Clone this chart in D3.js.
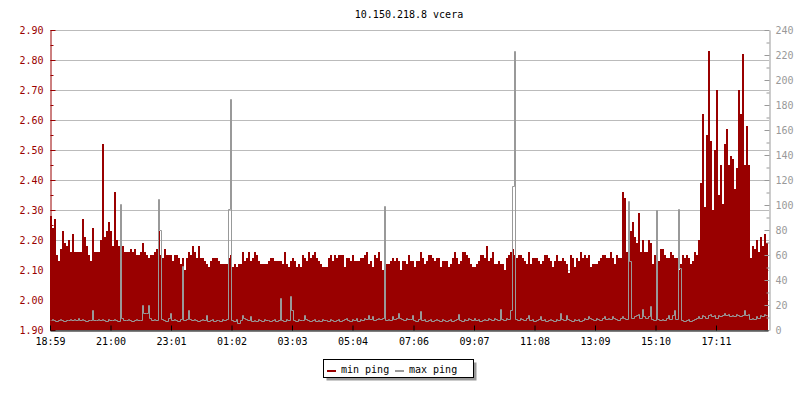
<!DOCTYPE html>
<html><head><meta charset="utf-8">
<script src="https://cdn.jsdelivr.net/npm/d3@7"></script>
<style>
body{margin:0;background:#fff}
svg{display:block}
text{font-family:"DejaVu Sans Mono","Liberation Mono",monospace;font-size:10px}
</style>
</head><body><svg id="c" width="800" height="400"></svg>
<script>
const title = "10.150.218.8 vcera";
const startTime = "18:59";
const stepMinutes = 4;
const seriesNames = ["min ping", "max ping"];

// min ping (ms, left axis), one value per 4 minutes
const minPing = [
2.28,2.24,2.27,2.15,2.13,2.17,2.23,2.19,2.18,2.20,
2.16,2.22,2.16,2.16,2.16,2.16,2.27,2.21,2.18,2.15,
2.13,2.24,2.16,2.16,2.16,2.20,2.52,2.21,2.23,2.26,
2.23,2.18,2.36,2.20,2.18,2.19,2.18,2.16,2.16,2.16,
2.17,2.16,2.17,2.15,2.15,2.16,2.19,2.16,2.15,2.14,
2.15,2.15,2.16,2.17,2.23,2.15,2.14,2.17,2.15,2.15,
2.15,2.13,2.15,2.15,2.14,2.12,2.14,2.10,2.14,2.16,
2.15,2.18,2.16,2.14,2.18,2.14,2.14,2.13,2.12,2.11,
2.13,2.14,2.14,2.14,2.13,2.12,2.12,2.12,2.12,2.14,
2.15,2.11,2.12,2.11,2.12,2.12,2.16,2.13,2.14,2.16,
2.13,2.14,2.16,2.15,2.13,2.12,2.12,2.12,2.12,2.13,
2.14,2.14,2.13,2.13,2.13,2.13,2.12,2.16,2.12,2.11,
2.13,2.14,2.13,2.11,2.12,2.11,2.15,2.14,2.13,2.16,
2.14,2.15,2.16,2.14,2.13,2.12,2.11,2.11,2.11,2.14,
2.15,2.13,2.15,2.14,2.15,2.15,2.15,2.11,2.14,2.14,
2.13,2.15,2.13,2.13,2.13,2.14,2.14,2.15,2.16,2.12,
2.13,2.11,2.15,2.14,2.16,2.13,2.10,2.13,2.12,2.12,
2.13,2.14,2.13,2.14,2.13,2.10,2.13,2.13,2.12,2.15,
2.13,2.13,2.11,2.13,2.13,2.16,2.14,2.12,2.13,2.15,
2.15,2.14,2.13,2.14,2.14,2.11,2.13,2.13,2.13,2.11,
2.12,2.14,2.16,2.14,2.12,2.13,2.16,2.16,2.15,2.14,
2.12,2.11,2.11,2.12,2.13,2.15,2.15,2.14,2.18,2.13,
2.14,2.16,2.12,2.12,2.13,2.12,2.12,2.10,2.14,2.15,
2.16,2.17,2.15,2.14,2.15,2.15,2.14,2.13,2.12,2.16,
2.12,2.14,2.14,2.14,2.13,2.12,2.13,2.15,2.15,2.14,
2.13,2.11,2.13,2.15,2.13,2.13,2.14,2.13,2.12,2.09,
2.15,2.14,2.11,2.14,2.13,2.16,2.14,2.15,2.14,2.15,
2.11,2.12,2.12,2.12,2.13,2.14,2.15,2.15,2.14,2.14,
2.16,2.14,2.12,2.15,2.14,2.14,2.36,2.34,2.16,2.13,
2.23,2.26,2.21,2.19,2.29,2.16,2.20,2.16,2.16,2.20,
2.19,2.12,2.15,2.14,2.13,2.17,2.17,2.15,2.14,2.14,
2.16,2.15,2.14,2.14,2.10,2.12,2.15,2.14,2.15,2.14,
2.12,2.13,2.16,2.15,2.20,2.39,2.62,2.31,2.55,2.83,
2.53,2.30,2.50,2.70,2.35,2.45,2.32,2.52,2.57,2.45,
2.48,2.47,2.37,2.44,2.70,2.62,2.82,2.45,2.58,2.45,
2.14,2.18,2.17,2.20,2.16,2.21,2.18,2.22,2.19
];

// max ping (ms, right axis)
const maxPing = [
8,9,8,7,8,9,8,7,8,8,
9,8,9,8,10,8,9,8,7,8,
8,16,8,8,9,8,9,8,7,9,
8,8,9,8,7,101,10,8,8,9,
8,7,8,9,8,8,20,14,14,20,
10,8,9,8,105,80,9,8,7,10,
14,8,9,8,7,9,51,8,9,16,
9,8,9,8,7,8,9,8,12,7,
8,9,7,8,8,7,9,8,9,97,
185,8,7,9,6,8,12,10,9,8,
11,7,8,7,9,8,7,9,8,8,
7,8,9,7,8,26,8,7,9,8,
27,16,8,7,9,8,8,12,9,8,
7,8,9,7,8,7,9,8,8,7,
9,8,7,8,9,7,8,9,10,8,
7,9,8,10,7,9,8,10,9,12,
9,11,8,9,10,9,10,99,8,9,
8,11,9,10,14,10,9,8,10,9,
9,12,8,7,9,15,8,9,7,8,
9,7,8,9,8,7,9,8,7,8,
9,7,8,9,13,8,7,9,8,10,
9,8,10,8,9,7,8,9,8,10,
9,8,10,9,8,17,9,8,10,9,
16,115,223,9,8,10,9,8,10,12,
8,9,7,8,9,11,8,9,7,8,
9,8,7,9,8,14,9,8,12,9,
8,7,9,8,9,7,8,10,9,11,
10,9,8,10,9,8,10,11,9,10,
9,11,10,9,8,10,11,10,9,103,
55,10,11,12,13,10,17,11,10,11,
19,9,8,96,9,8,9,8,10,12,
9,12,16,9,97,50,8,7,8,9,
7,8,9,10,11,10,12,11,10,12,
13,11,12,10,12,11,12,14,12,13,
11,12,11,13,12,11,12,16,12,13,
9,10,9,11,10,12,11,13,12
];

const timeTickLabels = ["18:59","21:00","23:01","01:02","03:03","05:04","07:06","09:07","11:08","13:09","15:10","17:11"];
const leftTicks = [1.90,2.00,2.10,2.20,2.30,2.40,2.50,2.60,2.70,2.80,2.90];
const leftMinorTicks = [1.95,2.05,2.15,2.25,2.35,2.45,2.55,2.65,2.75,2.85];
const rightTicks = [0,20,40,60,80,100,120,140,160,180,200,220,240];
const rightMinorTicks = [10,30,50,70,90,110,130,150,170,190,210,230];

// ---------- drawing ----------
const RED = "#990000", GRAY = "#999999";
const L = 50, R = 768, T = 30, B = 330;
const svg = d3.select("#c");
const n = minPing.length;
const total = n * stepMinutes;

const x = d3.scaleLinear().domain([0, total]).range([L, R]);
const yL = d3.scaleLinear().domain([1.9, 2.9]).range([B, T]);
const yR = d3.scaleLinear().domain([0, 240]).range([B, T]);

const toMin = s => { const [h, m] = s.split(":").map(Number); return h * 60 + m; };
const st = toMin(startTime);
const tickPos = timeTickLabels.map(s => { let m = toMin(s) - st; if (m < 0) m += 1440; return m; });

// title
svg.append("text").attr("x", 409).attr("y", 18).attr("text-anchor", "middle").attr("fill", "#000").text(title);

// grid
svg.append("g").selectAll("line").data(leftTicks).join("line")
  .attr("x1", L).attr("x2", R + 1)
  .attr("y1", d => Math.round(yL(d)) + 0.5).attr("y2", d => Math.round(yL(d)) + 0.5)
  .attr("stroke", "#bbbbbb").attr("stroke-width", 1);

// min ping area
const redPts = minPing.map((v, i) => ({ t: i * stepMinutes, v }));
redPts.push({ t: total, v: minPing[n - 1] });
svg.append("path").datum(redPts)
  .attr("d", d3.area().x(d => x(d.t)).y0(B).y1(d => Math.round(yL(d.v))).curve(d3.curveStepAfter))
  .attr("fill", RED).attr("shape-rendering", "crispEdges");

// max ping line: steps whose vertical edges sit inside the taller sample
const gx = i => x(i * stepMinutes);
const grayPts = [];
let X0 = gx(0) + 0.5;
maxPing.forEach((v, i) => {
  let X1;
  if (i < n - 1) X1 = maxPing[i + 1] >= v ? gx(i + 1) + 0.5 : gx(i + 1) - 0.5;
  else X1 = gx(n) - 0.5;
  grayPts.push([X0, v], [X1, v]);
  X0 = X1;
});
svg.append("path").datum(grayPts)
  .attr("d", d3.line().x(d => d[0]).y(d => Math.round(yR(d[1])) + 0.5))
  .attr("fill", "none").attr("stroke", GRAY).attr("stroke-width", 1);

// left axis
const gl = svg.append("g").attr("transform", `translate(${L + 0.5},0)`);
gl.call(d3.axisLeft(yL).tickValues(leftTicks).tickFormat(d3.format(".2f")).tickSize(-5).tickSizeOuter(0).tickPadding(7));
gl.append("g").call(d3.axisLeft(yL).tickValues(leftMinorTicks).tickFormat("").tickSize(-3).tickSizeOuter(0)).select(".domain").remove();
gl.selectAll("path,line").attr("stroke", RED);
gl.selectAll("text").attr("fill", RED).style("font-family", '"DejaVu Sans Mono",monospace').style("font-size", "10px");

// right axis
const gr = svg.append("g").attr("transform", `translate(${R + 1.5},0)`);
gr.call(d3.axisRight(yR).tickValues(rightTicks).tickSize(-5).tickSizeOuter(0).tickPadding(6));
gr.append("g").call(d3.axisRight(yR).tickValues(rightMinorTicks).tickFormat("").tickSize(-3).tickSizeOuter(0)).select(".domain").remove();
gr.selectAll("path,line").attr("stroke", GRAY);
gr.selectAll("text").attr("fill", GRAY).style("font-family", '"DejaVu Sans Mono",monospace').style("font-size", "10px");

// bottom axis
const gb = svg.append("g").attr("transform", `translate(0,${B + 0.5})`);
gb.call(d3.axisBottom(x).tickValues(tickPos).tickFormat((d, i) => timeTickLabels[i]).tickSize(-5).tickSizeOuter(0).tickPadding(7));
gb.selectAll("path,line").attr("stroke", "#000");
gb.selectAll("text").attr("fill", "#000").style("font-family", '"DejaVu Sans Mono",monospace').style("font-size", "10px");

// legend
const lg = svg.append("g");
lg.append("rect").attr("x", 326.5).attr("y", 362.5).attr("width", 150).attr("height", 18).attr("fill", GRAY);
lg.append("rect").attr("x", 323.5).attr("y", 359.5).attr("width", 150).attr("height", 18).attr("fill", "#fff").attr("stroke", "#000");
const legendColors = [RED, GRAY];
const legendX = [327, 395];
seriesNames.forEach((name, i) => {
  lg.append("line").attr("x1", legendX[i]).attr("x2", legendX[i] + 9).attr("y1", 371).attr("y2", 371)
    .attr("stroke", legendColors[i]).attr("stroke-width", 2);
  lg.append("text").attr("x", legendX[i] + 14).attr("y", 373).attr("fill", "#000").text(name);
});
</script>
</body></html>
